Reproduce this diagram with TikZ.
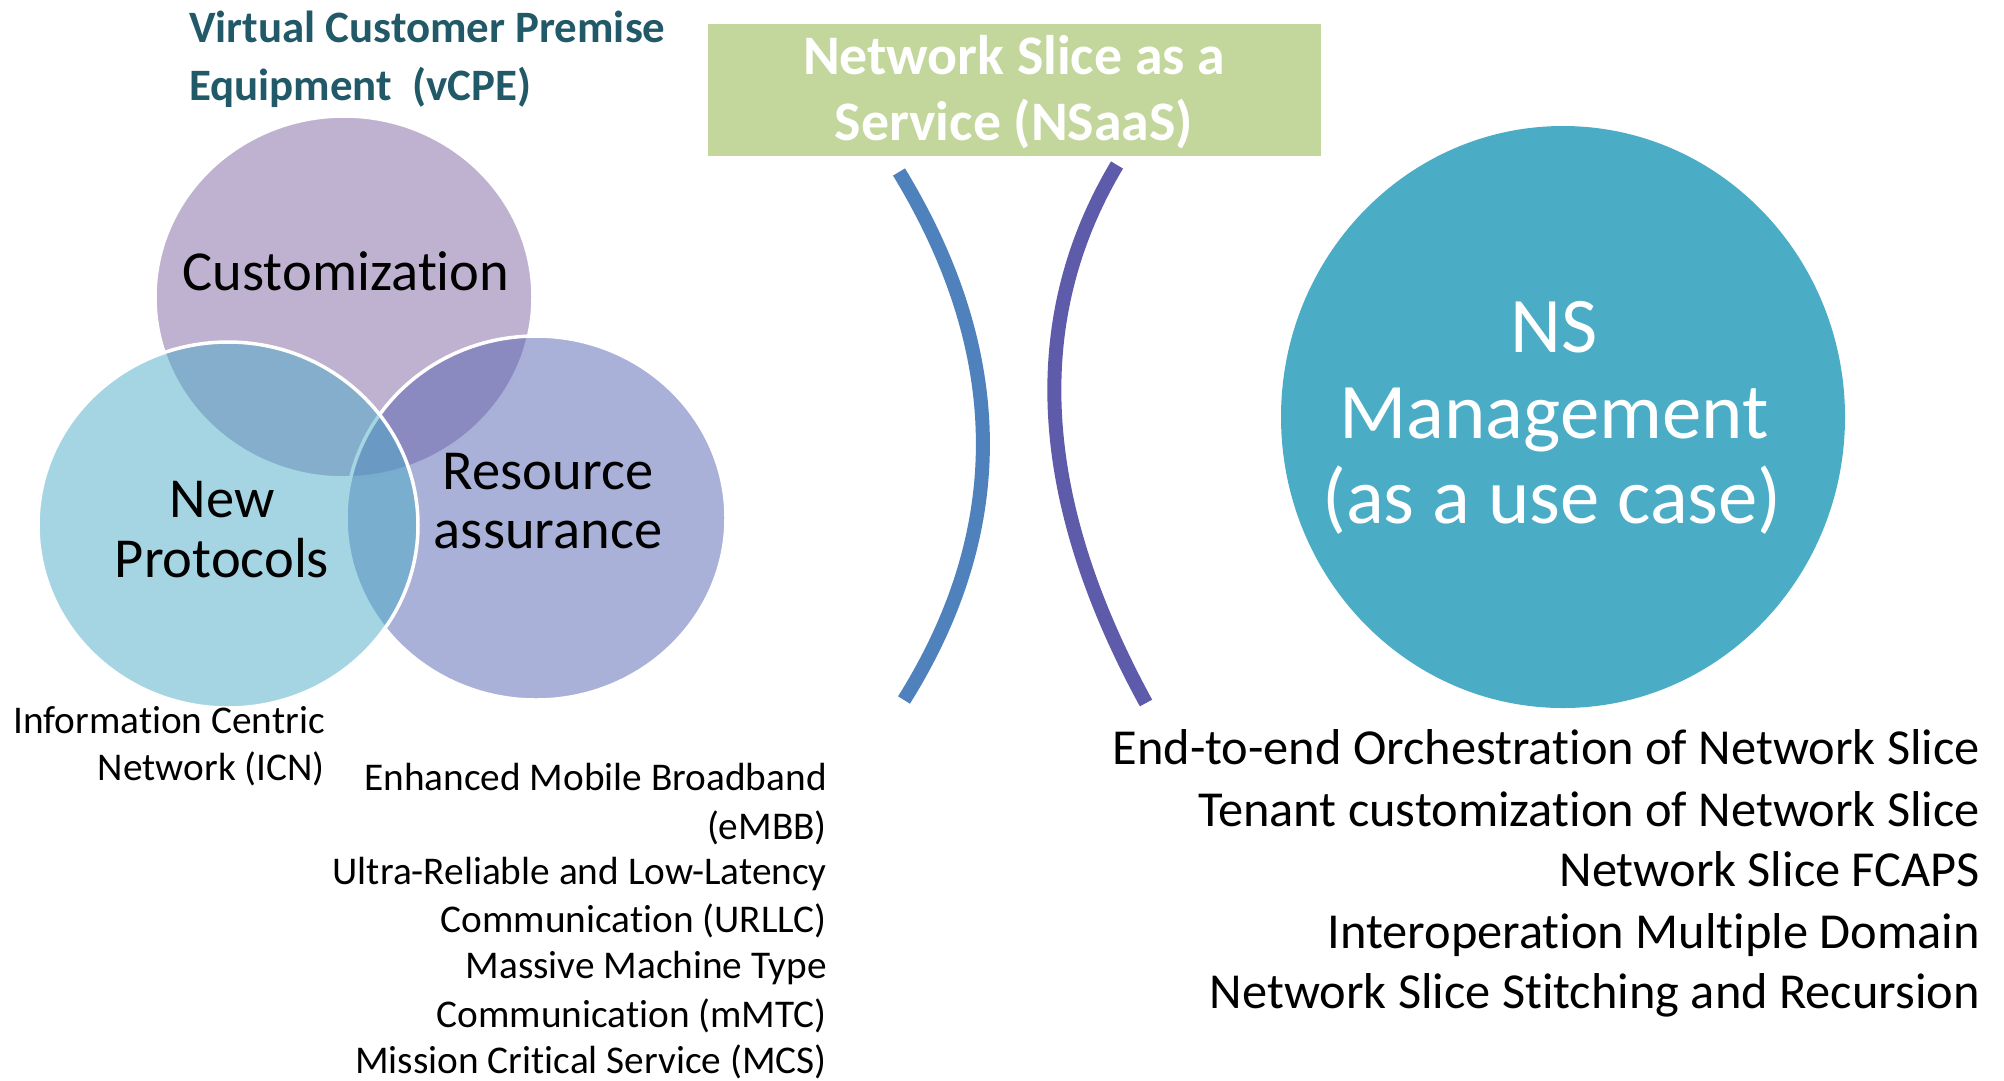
\documentclass[tikz,border=0pt]{standalone}
\usepackage{fontspec}
\setmainfont[Ligatures={NoCommon}]{Carlito}
\definecolor{titleteal}{HTML}{215968}
\definecolor{boxgreen}{HTML}{C3D69B}
\definecolor{nsaqua}{HTML}{4BACC6}
\definecolor{arcblue}{HTML}{4F81BD}
\definecolor{arcpurple}{HTML}{5E5BAB}
\definecolor{vpurple}{HTML}{8064A2}
\definecolor{vperi}{HTML}{5563B3}
\definecolor{vblue}{HTML}{4BACC6}
\begin{document}
\begin{tikzpicture}[x=1pt,y=-1pt]
\tikzset{
  venn/.style={draw=white, line width=3.5pt, fill opacity=0.5},
  arcline/.style={line width=14pt},
  vennlbl/.style={inner sep=0pt, anchor=base, font=\fontsize{56.5}{60}\selectfont},
  smalllbl/.style={inner sep=0pt, anchor=base east, font=\fontsize{39.3}{46}\selectfont},
  listlbl/.style={inner sep=0pt, anchor=base east, font=\fontsize{50.4}{61}\selectfont},
  titlelbl/.style={inner sep=0pt, anchor=base west, text=titleteal, font=\fontsize{44.9}{60}\selectfont\bfseries},
  boxlbl/.style={inner sep=0pt, anchor=base, text=white, font=\fontsize{55.8}{66}\selectfont\bfseries},
  nslbl/.style={inner sep=0pt, anchor=base, text=white, font=\fontsize{78.8}{86}\selectfont}
}
\useasboundingbox (0,0) rectangle (2004,1080);

% title
\node[titlelbl] (t1) at (189,42) {Virtual Customer Premise};
\node[titlelbl] (t2) at (189,100) {Equipment\ \ (vCPE)};

% Venn circles
\path[venn, fill=vpurple] (344,297) ellipse [x radius=189pt, y radius=181pt];
\path[venn, fill=vperi] (536,518) ellipse [x radius=190pt, y radius=182pt];
\path[venn, fill=vblue] (228,525) ellipse [x radius=190pt, y radius=183pt];

\node[vennlbl] (cust) at (346,290) {Customization};
\node[vennlbl] (new) at (222,517) {New};
\node[vennlbl] (prot) at (222,577) {Protocols};
\node[vennlbl] (res) at (548,489) {Resource};
\node[vennlbl] (ass) at (548,548) {assurance};

% ICN
\node[smalllbl] (icn1) at (325,733) {Information Centric};
\node[smalllbl] (icn2) at (325,780) {Network (ICN)};

% 5G services
\node[smalllbl] (s1) at (827,790) {Enhanced Mobile Broadband};
\node[smalllbl] (s2) at (827,839) {(eMBB)};
\node[smalllbl] (s3) at (827,884) {Ultra-Reliable and Low-Latency};
\node[smalllbl] (s4) at (827,932) {Communication (URLLC)};
\node[smalllbl] (s5) at (827,978) {Massive Machine Type};
\node[smalllbl] (s6) at (827,1027) {Communication (mMTC)};
\node[smalllbl] (s7) at (827,1073) {Mission Critical Service (MCS)};

% NSaaS box
\node[fill=boxgreen, inner sep=0pt, minimum width=613pt, minimum height=132pt] (box) at (1014.5,90) {};
\node[boxlbl] (b1) at (1014,74) {Network Slice as a};
\node[boxlbl] (b2) at (1014,140) {Service (NSaaS)};

% arcs
\draw[arcline, arcblue] (899,172) .. controls (1009,353) and (1011,529) .. (904,700);
\draw[arcline, arcpurple] (1117,165) .. controls (1025,319) and (1034,498) .. (1146,703);

% NS management circle
\path[fill=nsaqua] (1563,417) ellipse [x radius=282pt, y radius=291pt];
\node[nslbl] (ns1) at (1554,352) {NS};
\node[nslbl] (ns2) at (1554,438) {Management};
\node[nslbl] (ns3) at (1552,523) {(as a use case)};

% NS management list
\node[listlbl] (m1) at (1980,764) {End-to-end Orchestration of Network Slice};
\node[listlbl] (m2) at (1980,826) {Tenant customization of Network Slice};
\node[listlbl] (m3) at (1980,886) {Network Slice FCAPS};
\node[listlbl] (m4) at (1980,948) {Interoperation Multiple Domain};
\node[listlbl] (m5) at (1980,1008) {Network Slice Stitching and Recursion};
\end{tikzpicture}
\end{document}
